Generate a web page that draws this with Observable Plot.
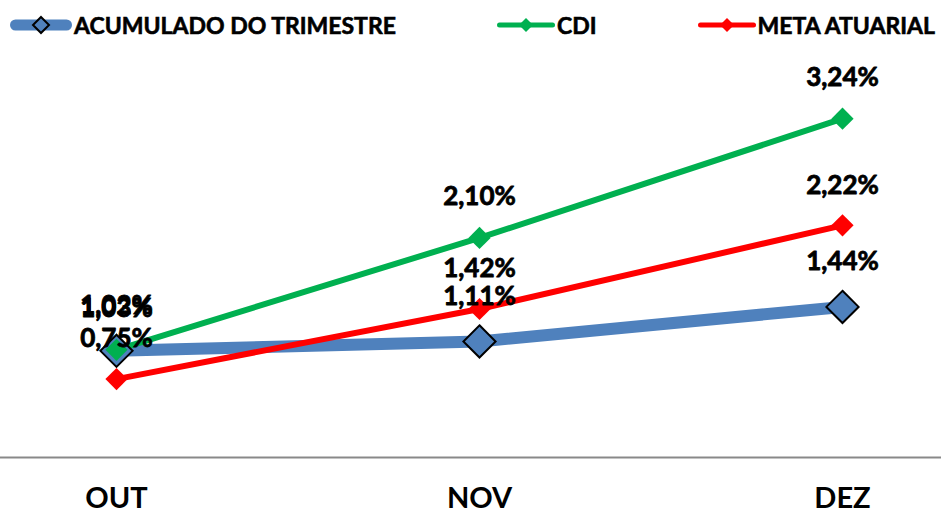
<!DOCTYPE html>
<html>
<head>
<meta charset="utf-8">
<script src="https://cdn.jsdelivr.net/npm/d3@7"></script>
<script src="https://cdn.jsdelivr.net/npm/@observablehq/plot@0.6"></script>
<style>
  html, body { margin: 0; padding: 0; background: #fff; }
  body { width: 941px; height: 515px; overflow: hidden; font-family: Lato, "Open Sans", sans-serif; }
  #legend { height: 50px; display: flex; justify-content: space-between; align-items: center; padding: 0 6px 0 10px; box-sizing: border-box; }
  .item { display: flex; align-items: center; font-weight: 700; font-size: 23px; color: #000; white-space: nowrap; -webkit-text-stroke: 0.6px #000; }
  .item svg { margin-right: 2px; }
</style>
</head>
<body>
<div id="legend"></div>
<div id="chart"></div>
<script>
const months = ["OUT", "NOV", "DEZ"];
const acumulado = [1.02, 1.11, 1.44];
const cdi = [1.03, 2.10, 3.24];
const meta = [0.75, 1.42, 2.22];
const seriesNames = ["ACUMULADO DO TRIMESTRE", "CDI", "META ATUARIAL"];
const seriesColors = ["#4F81BD", "#00B050", "#FF0000"];

const values = [acumulado, cdi, meta];
const rows = [];
values.forEach((vals, s) => vals.forEach((v, i) => rows.push({series: seriesNames[s], month: months[i], value: v})));
const bySeries = name => rows.filter(d => d.series === name);
const fmt = v => d3.format(".2f")(v).replace(".", ",") + "%";

// Legend
const legend = document.getElementById("legend");
const swatchSpecs = [
  {w: 62, sw: 11, r: 8, stroke: "#000", sStroke: 2},
  {w: 58, sw: 5, r: 7, stroke: "none", sStroke: 0},
  {w: 58, sw: 5, r: 7, stroke: "none", sStroke: 0}
];
seriesNames.forEach((name, i) => {
  const sp = swatchSpecs[i];
  const item = document.createElement("div");
  item.className = "item";
  const h = 24, cx = sp.w / 2, cy = h / 2;
  item.innerHTML = `<svg width="${sp.w}" height="${h}">
    <line x1="${sp.sw/2}" x2="${sp.w - sp.sw/2}" y1="${cy}" y2="${cy}" stroke="${seriesColors[i]}" stroke-width="${sp.sw}" stroke-linecap="round"/>
    <path d="M${cx},${cy - sp.r}L${cx + sp.r},${cy}L${cx},${cy + sp.r}L${cx - sp.r},${cy}Z" fill="${seriesColors[i]}" stroke="${sp.stroke}" stroke-width="${sp.sStroke}"/>
  </svg><span>${name}</span>`;
  legend.appendChild(item);
});

const labelFont = {fontSize: 26, fontWeight: "bold", fontFamily: "Lato, 'Open Sans', sans-serif", fill: "#000", stroke: "#000", strokeWidth: 0.8};

const chart = Plot.plot({
  width: 941,
  height: 465,
  marginTop: 41,
  marginBottom: 58,
  marginLeft: 116,
  marginRight: 99,
  x: {type: "point", domain: months, padding: 0},
  y: {domain: [0, 3.5], axis: null},
  marks: [
    Plot.ruleY([0], {stroke: "#898989", strokeWidth: 2, insetLeft: -116, insetRight: -99}),
    Plot.line(bySeries(seriesNames[0]), {x: "month", y: "value", stroke: seriesColors[0], strokeWidth: 12}),
    Plot.line(bySeries(seriesNames[1]), {x: "month", y: "value", stroke: seriesColors[1], strokeWidth: 6}),
    Plot.line(bySeries(seriesNames[2]), {x: "month", y: "value", stroke: seriesColors[2], strokeWidth: 6}),
    Plot.dot(bySeries(seriesNames[0]), {x: "month", y: "value", symbol: "diamond2", r: 14.5, fill: seriesColors[0], stroke: "#000", strokeWidth: 2}),
    Plot.dot(bySeries(seriesNames[1]), {x: "month", y: "value", symbol: "diamond2", r: 10, fill: seriesColors[1]}),
    Plot.dot(bySeries(seriesNames[2]), {x: "month", y: "value", symbol: "diamond2", r: 10, fill: seriesColors[2]}),
    Plot.text(bySeries(seriesNames[0]), {x: "month", y: "value", text: d => fmt(d.value), dy: -45, ...labelFont}),
    Plot.text(bySeries(seriesNames[1]), {x: "month", y: "value", text: d => fmt(d.value), dy: -41, ...labelFont}),
    Plot.text(bySeries(seriesNames[2]), {x: "month", y: "value", text: d => fmt(d.value), dy: -40, ...labelFont}),
    Plot.axisX({tickSize: 0, tickPadding: 30, fontSize: 29, fontWeight: "bold", fontFamily: "Lato, sans-serif", fill: "#000", stroke: "#000", strokeWidth: 0.8, label: null})
  ]
});
document.getElementById("chart").appendChild(chart);
</script>
</body>
</html>
